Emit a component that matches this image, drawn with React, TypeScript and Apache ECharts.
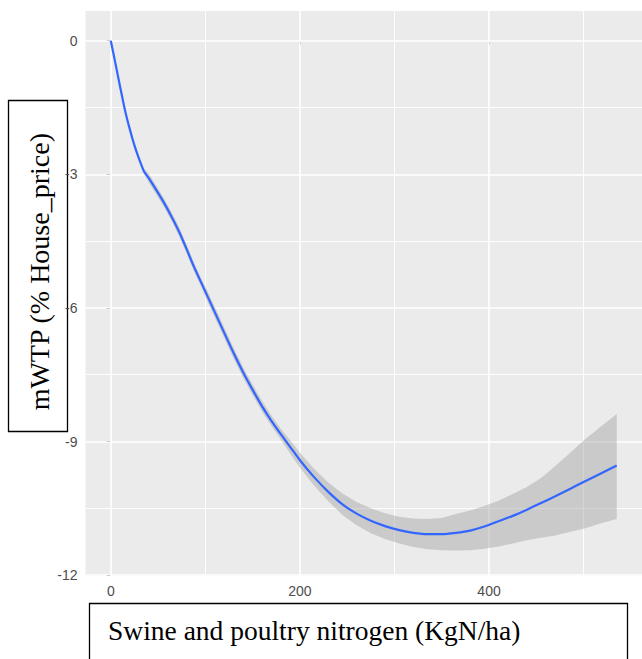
import React, { useEffect, useRef } from "react";
import * as echarts from "echarts";

// Nitrogen (KgN/ha) sample positions along the fitted curve
const nitrogen = [0, 5, 10, 15, 20, 25, 30, 35, 40, 48, 56, 64, 72, 80, 88, 96, 104, 112, 120, 130, 140, 150, 160, 170, 180, 190, 200, 215, 230, 245, 260, 275, 290, 305, 320, 335, 350, 365, 380, 395, 410, 425, 440, 455, 470, 485, 500, 515, 535];
// Fitted mWTP (% house price)
const fitted = [0, -0.52, -1.05, -1.56, -1.98, -2.35, -2.66, -2.93, -3.08, -3.35, -3.63, -3.94, -4.28, -4.67, -5.08, -5.45, -5.82, -6.19, -6.56, -7.02, -7.45, -7.84, -8.21, -8.54, -8.84, -9.13, -9.42, -9.8, -10.13, -10.41, -10.62, -10.78, -10.9, -10.99, -11.05, -11.08, -11.08, -11.05, -11.0, -10.91, -10.79, -10.67, -10.53, -10.38, -10.23, -10.07, -9.91, -9.75, -9.54];
// Confidence band upper and lower edges
const upperBand = [0.02, -0.48, -1.01, -1.52, -1.94, -2.31, -2.62, -2.87, -2.98, -3.25, -3.53, -3.84, -4.18, -4.57, -4.98, -5.35, -5.7, -6.07, -6.44, -6.9, -7.33, -7.72, -8.09, -8.42, -8.72, -8.98, -9.25, -9.61, -9.92, -10.17, -10.36, -10.5, -10.61, -10.69, -10.73, -10.74, -10.72, -10.63, -10.55, -10.45, -10.33, -10.18, -10.02, -9.82, -9.55, -9.27, -8.98, -8.72, -8.38];
const lowerBand = [-0.02, -0.56, -1.09, -1.6, -2.02, -2.39, -2.7, -2.99, -3.18, -3.45, -3.73, -4.04, -4.38, -4.77, -5.18, -5.55, -5.94, -6.31, -6.68, -7.14, -7.57, -7.96, -8.33, -8.66, -8.96, -9.28, -9.59, -9.99, -10.34, -10.65, -10.88, -11.06, -11.19, -11.29, -11.37, -11.42, -11.44, -11.45, -11.44, -11.41, -11.36, -11.29, -11.22, -11.16, -11.11, -11.03, -10.96, -10.86, -10.74];

const xTicks = [0, 200, 400];
const xMinor = [100, 300, 500];
const yTicks = [0, -3, -6, -9, -12];
const yMinor = [-1.5, -4.5, -7.5, -10.5];

const xTitle = "Swine and poultry nitrogen (KgN/ha)";
const yTitle = "mWTP (% House_price)";

export default function App() {
  const ref = useRef<HTMLDivElement>(null);
  useEffect(() => {
    if (!ref.current) return;
    const chart = echarts.init(ref.current, null, { renderer: "svg" });
    const major = { color: "#FFFFFF", width: 1.6, type: "solid" as const };
    const minor = { color: "#FFFFFF", width: 0.9, type: "solid" as const };
    const gridLines = [
      ...xTicks.map((v) => ({ xAxis: v, lineStyle: major })),
      ...xMinor.map((v) => ({ xAxis: v, lineStyle: minor })),
      ...yTicks.map((v) => ({ yAxis: v, lineStyle: major })),
      ...yMinor.map((v) => ({ yAxis: v, lineStyle: minor })),
    ];
    const labelStyle = {
      color: "#4D4D4D",
      fontSize: 14,
      fontFamily: "Liberation Sans, Arial, sans-serif",
    };
    const bandData = nitrogen.map((x, i) => [x, lowerBand[i], upperBand[i]]);
    chart.setOption({
      animation: false,
      grid: {
        left: 85.5,
        top: 11,
        width: 560.5,
        height: 565,
        show: true,
        backgroundColor: "#EBEBEB",
        borderWidth: 0,
      },
      xAxis: {
        type: "value",
        min: -26.75,
        max: 561.75,
        axisLine: { show: false },
        axisTick: { show: true, length: 4, customValues: xTicks, lineStyle: { color: "#333333", width: 1 } },
        axisLabel: { ...labelStyle, margin: 8, customValues: xTicks },
        splitLine: { show: false },
      },
      yAxis: {
        type: "value",
        min: -12.02,
        max: 0.667,
        axisLine: { show: false },
        axisTick: { show: true, length: 4, customValues: yTicks, lineStyle: { color: "#333333", width: 1 } },
        axisLabel: { ...labelStyle, margin: 8, customValues: yTicks },
        splitLine: { show: false },
      },
      series: [
        {
          type: "line",
          data: [],
          silent: true,
          z: 1,
          markLine: {
            silent: true,
            z: 1,
            symbol: ["none", "none"],
            label: { show: false },
            animation: false,
            data: gridLines,
          },
        },
        {
          type: "custom",
          name: "band",
          data: bandData,
          encode: { x: 0, y: [1, 2] },
          silent: true,
          z: 5,
          renderItem: (params: any, api: any) => {
            if (params.dataIndex !== 0) return null;
            const top = bandData.map((d) => api.coord([d[0], d[2]]));
            const bottom = bandData.map((d) => api.coord([d[0], d[1]])).reverse();
            return {
              type: "polygon",
              shape: { points: top.concat(bottom), smooth: 0 },
              style: { fill: "rgba(153,153,153,0.4)", stroke: "none" },
            };
          },
        },
        {
          type: "line",
          name: "fit",
          data: nitrogen.map((x, i) => [x, fitted[i]]),
          symbol: "none",
          smooth: 0.2,
          lineStyle: { color: "#3366FF", width: 2.2 },
          silent: true,
          z: 10,
        },
      ],
      graphic: [
        {
          type: "rect",
          shape: { x: 8.5, y: 100.5, width: 59, height: 331 },
          style: { fill: "#FFFFFF", stroke: "#000000", lineWidth: 1.3 },
        },
        {
          type: "text",
          x: 39.5,
          y: 271.7,
          rotation: Math.PI / 2,
          style: {
            text: yTitle,
            font: '28px "Liberation Serif", "Times New Roman", serif',
            fill: "#000000",
            textAlign: "center",
            textVerticalAlign: "middle",
            align: "center",
            verticalAlign: "middle",
          },
        },
        {
          type: "rect",
          shape: { x: 89.5, y: 603.5, width: 538, height: 70 },
          style: { fill: "#FFFFFF", stroke: "#000000", lineWidth: 1.3 },
        },
        {
          type: "text",
          x: 108,
          y: 630,
          style: {
            text: xTitle,
            font: '27.5px "Liberation Serif", "Times New Roman", serif',
            fill: "#000000",
            textAlign: "left",
            textVerticalAlign: "middle",
            align: "left",
            verticalAlign: "middle",
          },
        },
      ],
    });
    return () => chart.dispose();
  }, []);
  return (
    <div
      ref={ref}
      style={{ position: "fixed", left: 0, top: 0, width: 642, height: 659, background: "#FFFFFF" }}
    />
  );
}
